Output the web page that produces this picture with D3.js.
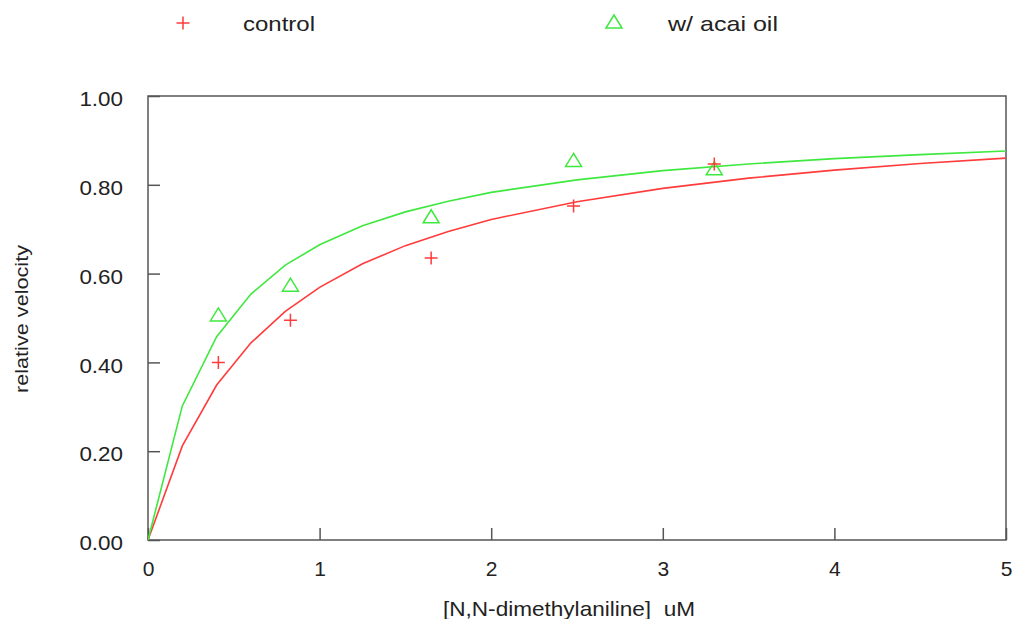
<!DOCTYPE html>
<html>
<head>
<meta charset="utf-8">
<script src="https://cdn.jsdelivr.net/npm/d3@7"></script>
<style>
  body { margin: 0; background: #fff; }
  svg text { font-family: "Liberation Sans", Arial, sans-serif; fill: #222; white-space: pre; }
</style>
</head>
<body>
<div id="chart"></div>
<script>
// measured points
var conc = [0.41, 0.83, 1.65, 2.48, 3.30];
var controlPts = [0.400, 0.495, 0.635, 0.752, 0.847];
var acaiPts = [0.507, 0.574, 0.728, 0.855, 0.836];

// fitted curves
var fitX = [0, 0.2, 0.4, 0.6, 0.8, 1.0, 1.25, 1.5, 1.75, 2.0, 2.5, 3.0, 3.5, 4.0, 4.5, 5.0];
var controlFit = [0, 0.212, 0.349, 0.444, 0.515, 0.569, 0.622, 0.663, 0.695, 0.722, 0.762, 0.792, 0.815, 0.833, 0.848, 0.860];
var acaiFit = [0, 0.302, 0.458, 0.554, 0.619, 0.665, 0.708, 0.739, 0.763, 0.783, 0.811, 0.832, 0.847, 0.859, 0.868, 0.876];

var xTicks = [0, 1, 2, 3, 4, 5];
var yTicks = [0, 0.2, 0.4, 0.6, 0.8, 1.0];

var red = "#ff3b3b", green = "#3fe83f";

var svg = d3.select("#chart").append("svg")
    .attr("width", 1016)
    .attr("height", 619);

var margin = {top: 96, right: 10, bottom: 79, left: 148};
var width = 1016 - margin.left - margin.right;
var height = 619 - margin.top - margin.bottom;

var x = d3.scaleLinear().domain([0, 5]).range([0, width]);
var y = d3.scaleLinear().domain([0, 1]).range([height, 0]);

// the text in this chart is drawn a bit wider than the font's normal width
function widen(sel, k) {
  sel.each(function(){
    var w = this.getComputedTextLength();
    d3.select(this).attr("textLength", w * k).attr("lengthAdjust", "spacingAndGlyphs");
  });
}

var g = svg.append("g").attr("transform", "translate(" + margin.left + "," + margin.top + ")");

svg.append("clipPath").attr("id", "clip")
  .append("rect").attr("x", 0).attr("y", 0).attr("width", width).attr("height", height);

// y axis, ticks pointing inward
var yAxis = g.append("g")
    .call(d3.axisLeft(y).tickValues(yTicks).tickSize(-12).tickPadding(25).tickFormat(d3.format(".2f")));
yAxis.selectAll("text").style("font-size", "20px").attr("fill", "#222").attr("dy", "0.48em");
widen(yAxis.selectAll("text"), 1.12);

// x axis
var xAxis = g.append("g")
    .attr("transform", "translate(0," + height + ")")
    .call(d3.axisBottom(x).tickValues(xTicks).tickSize(-12).tickPadding(21).tickFormat(d3.format("d")));
xAxis.selectAll("text").style("font-size", "21px").attr("fill", "#222");

g.selectAll(".domain").remove();
g.selectAll(".tick line").attr("stroke", "#555").attr("stroke-width", 1.5);

// frame
g.append("rect")
    .attr("width", width).attr("height", height)
    .attr("fill", "none").attr("stroke", "#555").attr("stroke-width", 1.5);

var line = d3.line()
    .x(function(d){ return x(d[0]); })
    .y(function(d){ return y(d[1]); });

var plot = g.append("g").attr("clip-path", "url(#clip)");

plot.append("path")
    .attr("d", line(d3.zip(fitX, controlFit)))
    .attr("fill", "none").attr("stroke", red).attr("stroke-width", 1.6);

plot.append("path")
    .attr("d", line(d3.zip(fitX, acaiFit)))
    .attr("fill", "none").attr("stroke", green).attr("stroke-width", 1.6);

function plus(sel, cx, cy) {
  sel.append("path")
      .attr("d", "M" + (cx - 6.5) + "," + cy + "H" + (cx + 6.5) + "M" + cx + "," + (cy - 6.5) + "V" + (cy + 6.5))
      .attr("stroke", red).attr("stroke-width", 1.5).attr("fill", "none");
}
function tri(sel, cx, cy) {
  sel.append("path")
      .attr("d", "M" + cx + "," + (cy - 7) + "L" + (cx + 8) + "," + (cy + 6) + "L" + (cx - 8) + "," + (cy + 6) + "Z")
      .attr("stroke", green).attr("stroke-width", 1.5).attr("fill", "none");
}

acaiPts.forEach(function(v, i){ tri(g, x(conc[i]), y(v)); });
controlPts.forEach(function(v, i){ plus(g, x(conc[i]), y(v)); });

// axis titles
g.append("text")
    .attr("transform", "translate(" + (-120) + "," + 297 + ")rotate(-90)")
    .style("font-size", "18px")
    .attr("textLength", 148).attr("lengthAdjust", "spacingAndGlyphs")
    .text("relative velocity");

g.append("text")
    .attr("x", 295).attr("y", height + 76)
    .style("font-size", "21px")
    .attr("textLength", 252).attr("lengthAdjust", "spacingAndGlyphs")
    .text("[N,N-dimethylaniline]  uM");

// legend
plus(svg, 183, 23);
svg.append("text").attr("x", 243).attr("y", 31).style("font-size", "21px")
    .attr("textLength", 72).attr("lengthAdjust", "spacingAndGlyphs").text("control");
tri(svg, 614, 22);
svg.append("text").attr("x", 668).attr("y", 31).style("font-size", "21px")
    .attr("textLength", 110).attr("lengthAdjust", "spacingAndGlyphs").text("w/ acai oil");
</script>
</body>
</html>
